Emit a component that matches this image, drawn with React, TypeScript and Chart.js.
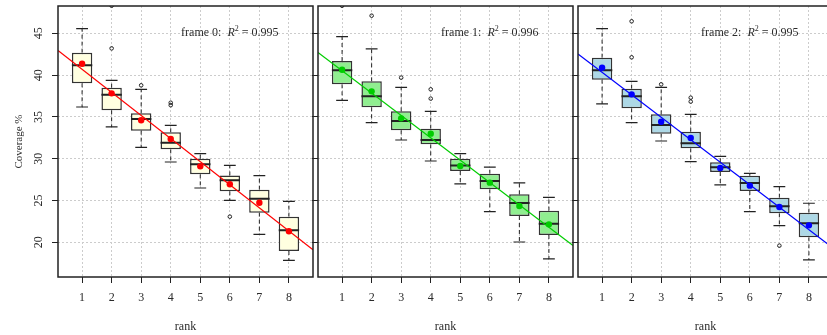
import React, { useEffect, useRef } from 'react';
import { Chart, registerables } from 'chart.js';

Chart.register(...registerables);

// ---------- data ----------
const RANKS = [1, 2, 3, 4, 5, 6, 7, 8];
const Y_TICKS = [20, 25, 30, 35, 40, 45];
const FRAME_LABELS = ['frame 0', 'frame 1', 'frame 2'];
const R2_LABELS = ['0.995', '0.996', '0.995'];
const X_LABEL = 'rank';
const Y_LABEL = 'Coverage %';

// frame 0
const F0_WHISK_LO = [36.19, 33.8, 31.36, 29.61, 26.5, 25.02, 20.96, 17.85];
const F0_Q1 = [39.02, 35.79, 33.36, 31.12, 28.13, 26.1, 23.55, 18.96];
const F0_MEDIAN = [41.17, 37.66, 34.75, 31.92, 29.33, 27.42, 25.22, 21.44];
const F0_Q3 = [42.69, 38.5, 35.43, 33.16, 30.0, 28.0, 26.3, 23.07];
const F0_WHISK_HI = [45.56, 39.38, 38.3, 34.0, 30.6, 29.21, 27.97, 24.9];
const F0_MEAN = [41.37, 37.82, 34.6, 32.36, 29.09, 26.94, 24.74, 21.32];
const F0_OUTLIERS = [[], [43.2, 48.3], [38.78], [36.7, 36.4], [], [23.07], [], []];

// frame 1
const F1_WHISK_LO = [36.99, 34.31, 32.24, 29.73, 27.0, 23.67, 20.04, 18.01];
const F1_Q1 = [38.9, 36.15, 33.4, 31.72, 28.53, 26.34, 23.15, 20.88];
const F1_MEDIAN = [40.57, 37.46, 34.51, 32.24, 29.2, 27.34, 24.7, 22.23];
const F1_Q3 = [41.69, 39.26, 35.67, 33.6, 30.0, 28.21, 25.74, 23.79];
const F1_WHISK_HI = [44.6, 43.13, 38.54, 35.67, 30.6, 29.0, 27.1, 25.38];
const F1_MEAN = [40.65, 38.06, 34.83, 33.0, 29.13, 27.14, 24.35, 22.15];
const F1_OUTLIERS = [[48.3], [47.11], [39.7], [38.3, 37.19], [], [], [], []];

// frame 2
const F2_WHISK_LO = [36.55, 34.31, 32.12, 29.65, 26.86, 23.67, 21.99, 17.89];
const F2_Q1 = [39.46, 36.03, 33.0, 31.24, 28.41, 26.14, 23.47, 20.6];
const F2_MEDIAN = [40.57, 37.46, 34.04, 31.84, 28.97, 27.1, 24.3, 22.27];
const F2_Q3 = [42.09, 38.38, 35.31, 33.24, 29.57, 27.97, 25.34, 23.55];
const F2_WHISK_HI = [45.56, 39.26, 38.54, 35.31, 30.29, 28.25, 26.65, 24.67];
const F2_MEAN = [40.89, 37.7, 34.43, 32.48, 28.89, 26.78, 24.23, 22.03];
const F2_OUTLIERS = [[], [46.44, 42.13], [38.9], [37.3, 36.83], [], [], [19.6], []];

// ---------- styling ----------
const FONT = "'Liberation Serif', 'DejaVu Serif', serif";
const TEXT = '#2a2a2a';
const GRID = '#cccccc';
const AXIS = '#222';
const X_MIN = 0.185;
const X_MAX = 8.815;
const Y_MIN = 15.85;
const Y_MAX = 48.27;
const BOX_FRAC = 0.69;
const CAP_HALF = 0.2;

const PANELS = [
  { lo: F0_WHISK_LO, q1: F0_Q1, med: F0_MEDIAN, q3: F0_Q3, hi: F0_WHISK_HI, mean: F0_MEAN, out: F0_OUTLIERS,
    fill: '#FFFFE0', color: '#FF0000', left: 0, width: 318, axisW: 58 },
  { lo: F1_WHISK_LO, q1: F1_Q1, med: F1_MEDIAN, q3: F1_Q3, hi: F1_WHISK_HI, mean: F1_MEAN, out: F1_OUTLIERS,
    fill: '#90EE90', color: '#00CD00', left: 312, width: 266, axisW: 6 },
  { lo: F2_WHISK_LO, q1: F2_Q1, med: F2_MEDIAN, q3: F2_Q3, hi: F2_WHISK_HI, mean: F2_MEAN, out: F2_OUTLIERS,
    fill: '#ADD8E6', color: '#0000FF', left: 572, width: 266, axisW: 6 },
];

function regression(xs: number[], ys: number[]) {
  const n = xs.length;
  const mx = xs.reduce((a, b) => a + b, 0) / n;
  const my = ys.reduce((a, b) => a + b, 0) / n;
  let sxy = 0, sxx = 0;
  for (let i = 0; i < n; i++) {
    sxy += (xs[i] - mx) * (ys[i] - my);
    sxx += (xs[i] - mx) * (xs[i] - mx);
  }
  const b = sxy / sxx;
  return { a: my - b * mx, b };
}

function buildConfig(idx: number): any {
  const p = PANELS[idx];
  const half = BOX_FRAC / 2;
  const whiskers: any[] = [];
  const caps: any[] = [];
  const medians: any[] = [];
  const outliers: any[] = [];
  RANKS.forEach((r, k) => {
    whiskers.push({ x: r, y: p.q3[k] }, { x: r, y: p.hi[k] }, { x: r, y: null },
      { x: r, y: p.q1[k] }, { x: r, y: p.lo[k] }, { x: r, y: null });
    caps.push({ x: r - CAP_HALF, y: p.hi[k] }, { x: r + CAP_HALF, y: p.hi[k] }, { x: r, y: null },
      { x: r - CAP_HALF, y: p.lo[k] }, { x: r + CAP_HALF, y: p.lo[k] }, { x: r, y: null });
    medians.push({ x: r - half, y: p.med[k] }, { x: r + half, y: p.med[k] }, { x: r, y: null });
    p.out[k].forEach((v: number) => outliers.push({ x: r, y: v }));
  });
  const reg = regression(RANKS, p.mean);

  const frame = {
    id: 'frame' + idx,
    afterDraw(chart: any) {
      const { ctx, chartArea } = chart;
      ctx.save();
      ctx.strokeStyle = AXIS;
      ctx.lineWidth = 1.5;
      ctx.strokeRect(chartArea.left, chartArea.top, chartArea.right - chartArea.left, chartArea.bottom - chartArea.top);
      ctx.restore();
    },
  };

  const annot = {
    id: 'annot' + idx,
    afterDatasetsDraw(chart: any) {
      const { ctx, scales } = chart;
      const cx = scales.x.getPixelForValue(6);
      const cy = scales.y.getPixelForValue(45);
      const parts = [
        { t: FRAME_LABELS[idx] + ':  ', f: `12px ${FONT}`, dy: 0 },
        { t: 'R', f: `italic 12px ${FONT}`, dy: 0 },
        { t: '2', f: `8px ${FONT}`, dy: -4 },
        { t: ' = ' + R2_LABELS[idx], f: `12px ${FONT}`, dy: 0 },
      ];
      ctx.save();
      ctx.fillStyle = TEXT;
      ctx.textBaseline = 'middle';
      ctx.textAlign = 'left';
      let total = 0;
      const widths = parts.map((pt) => { ctx.font = pt.f; const w = ctx.measureText(pt.t).width; total += w; return w; });
      let x = cx - total / 2;
      parts.forEach((pt, i) => { ctx.font = pt.f; ctx.fillText(pt.t, x, cy + pt.dy); x += widths[i]; });
      ctx.restore();
    },
  };

  const yLabels = {
    id: 'ylabels' + idx,
    afterDraw(chart: any) {
      if (idx !== 0) return;
      const { ctx } = chart;
      const s = chart.scales.y;
      ctx.save();
      ctx.fillStyle = TEXT;
      ctx.font = `12px ${FONT}`;
      ctx.textAlign = 'center';
      ctx.textBaseline = 'middle';
      s.ticks.forEach((t: any) => {
        const y = s.getPixelForValue(t.value);
        ctx.save();
        ctx.translate(39, y);
        ctx.rotate(-Math.PI / 2);
        ctx.fillText(String(t.value), 0, 0);
        ctx.restore();
      });
      ctx.restore();
    },
  };

  const gridCommon = { color: GRID, lineWidth: 1, tickLength: 6, tickColor: AXIS, tickWidth: 1, offset: false };

  return {
    type: 'bar',
    data: {
      datasets: [
        { type: 'scatter', data: outliers, pointRadius: 1.8, pointBackgroundColor: 'rgba(0,0,0,0)',
          pointBorderColor: '#222', pointBorderWidth: 1, clip: 0, order: 0 },
        { type: 'scatter', data: RANKS.map((r, k) => ({ x: r, y: p.mean[k] })), pointRadius: 3.2,
          pointBackgroundColor: p.color, pointBorderWidth: 0, order: 1 },
        { type: 'line', data: [{ x: X_MIN, y: reg.a + reg.b * X_MIN }, { x: X_MAX, y: reg.a + reg.b * X_MAX }],
          borderColor: p.color, borderWidth: 1.2, pointRadius: 0, fill: false, order: 2 },
        { type: 'line', data: medians, borderColor: '#222', borderWidth: 2, pointRadius: 0, spanGaps: false, fill: false, order: 3 },
        { type: 'bar', data: RANKS.map((r, k) => ({ x: r, y: [p.q1[k], p.q3[k]] })), backgroundColor: p.fill,
          borderColor: '#333', borderWidth: 1.5, borderSkipped: false, barPercentage: BOX_FRAC, categoryPercentage: 1, order: 4 },
        { type: 'line', data: caps, borderColor: '#222', borderWidth: 1.2, pointRadius: 0, spanGaps: false, fill: false, order: 5 },
        { type: 'line', data: whiskers, borderColor: '#222', borderWidth: 1, borderDash: [4, 3], pointRadius: 0,
          spanGaps: false, fill: false, order: 6 },
      ],
    },
    options: {
      responsive: false,
      animation: false,
      events: [],
      layout: { padding: { top: 6, right: 0, bottom: 0, left: 0 } },
      plugins: { legend: { display: false }, tooltip: { enabled: false }, title: { display: false } },
      scales: {
        x: {
          type: 'linear', min: X_MIN, max: X_MAX, offset: false,
          afterBuildTicks: (s: any) => { s.ticks = RANKS.map((v) => ({ value: v })); },
          afterFit: (s: any) => { s.height = 58; },
          grid: gridCommon,
          border: { display: false, dash: [2, 2] },
          ticks: { padding: 8, autoSkip: false, maxRotation: 0, font: { family: FONT, size: 12 }, color: TEXT,
            callback: (v: any) => String(v) },
          title: { display: true, text: X_LABEL, color: TEXT, font: { family: FONT, size: 12 }, padding: { top: 0, bottom: 0.5 } },
        },
        y: {
          type: 'linear', min: Y_MIN, max: Y_MAX, beginAtZero: false,
          afterBuildTicks: (s: any) => { s.ticks = Y_TICKS.map((v) => ({ value: v })); },
          afterFit: (s: any) => { s.width = p.axisW; },
          grid: gridCommon,
          border: { display: false, dash: [2, 2] },
          ticks: { display: false },
          title: { display: idx === 0, text: Y_LABEL, color: TEXT, font: { family: FONT, size: 11 }, padding: { top: 12.4, bottom: 0 } },
        },
      },
    },
    plugins: [frame, annot, yLabels],
  };
}

export default function App() {
  const r0 = useRef<HTMLCanvasElement>(null);
  const r1 = useRef<HTMLCanvasElement>(null);
  const r2 = useRef<HTMLCanvasElement>(null);

  useEffect(() => {
    const refs = [r0, r1, r2];
    const charts = refs.map((r, i) => new Chart(r.current as HTMLCanvasElement, buildConfig(i)));
    return () => charts.forEach((c) => c.destroy());
  }, []);

  const refs = [r0, r1, r2];
  return (
    <div style={{ position: 'fixed', left: 0, top: 0, width: 827, height: 335, overflow: 'hidden', background: '#fff' }}>
      {PANELS.map((p, i) => (
        <canvas
          key={i}
          ref={refs[i]}
          width={p.width}
          height={335}
          style={{ position: 'absolute', left: p.left, top: 0, width: p.width, height: 335 }}
        />
      ))}
    </div>
  );
}
